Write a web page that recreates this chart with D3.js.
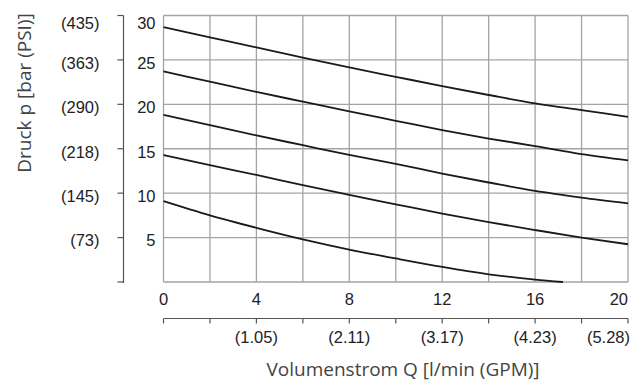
<!DOCTYPE html>
<html>
<head>
<meta charset="utf-8">
<script src="https://cdn.jsdelivr.net/npm/d3@7"></script>
<style>
  body { margin: 0; background: #fff; }
  .tick-label { font-family: "Liberation Sans", Arial, sans-serif; font-size: 16.5px; fill: #222; }
  .axis-title { font-family: "Open Sans", sans-serif; font-size: 19px; fill: #444; }
</style>
</head>
<body>
<div id="chart"></div>
<script>
// flow in l/min where each curve was read
let flowSteps = [0, 2, 4, 6, 8, 10, 12, 14, 16, 18, 20]
let flowLast = [0, 2, 4, 6, 8, 10, 12, 14, 16, 17.2]

// pressure curves in bar (top to bottom)
let curve1 = [28.7, 27.55, 26.4, 25.25, 24.15, 23.1, 22.05, 21.05, 20.1, 19.35, 18.6]
let curve2 = [23.7, 22.55, 21.4, 20.3, 19.2, 18.15, 17.1, 16.15, 15.3, 14.4, 13.7]
let curve3 = [18.8, 17.65, 16.5, 15.4, 14.3, 13.3, 12.2, 11.2, 10.25, 9.5, 8.85]
let curve4 = [14.3, 13.15, 12.05, 10.9, 9.8, 8.75, 7.7, 6.75, 5.85, 5.0, 4.25]
let curve5 = [9.1, 7.5, 6.1, 4.8, 3.65, 2.65, 1.7, 0.87, 0.27, 0]

// tick values and labels
let barTicks = [5, 10, 15, 20, 25, 30]
let psiLabels = ["(73)", "(145)", "(218)", "(290)", "(363)", "(435)"]
let flowTicks = [0, 4, 8, 12, 16, 20]
let gpmTicks = [4, 8, 12, 16, 20]
let gpmLabels = ["(1.05)", "(2.11)", "(3.17)", "(4.23)", "(5.28)"]

let width = 641, height = 387
let margin = {top: 15.5, right: 13, bottom: 105, left: 163.5}
let plotW = width - margin.left - margin.right
let plotH = height - margin.top - margin.bottom

let svg = d3.select("#chart").append("svg")
    .attr("width", width)
    .attr("height", height)

let g = svg.append("g")
    .attr("transform", "translate(" + margin.left + "," + margin.top + ")")

let x = d3.scaleLinear().domain([0, 20]).range([0, plotW])
let y = d3.scaleLinear().domain([0, 30]).range([plotH, 0])

// vertical grid lines every 2 l/min
g.append("g")
    .selectAll("line")
    .data(d3.range(0, 21, 2))
    .enter()
    .append("line")
    .attr("x1", d => x(d)).attr("x2", d => x(d))
    .attr("y1", 0).attr("y2", plotH)
    .attr("stroke", "#a3a3a3")
    .attr("stroke-width", 1.3)

// horizontal grid lines every 5 bar
g.append("g")
    .selectAll("line")
    .data(d3.range(0, 31, 5))
    .enter()
    .append("line")
    .attr("x1", 0).attr("x2", plotW)
    .attr("y1", d => y(d)).attr("y2", d => y(d))
    .attr("stroke", "#a3a3a3")
    .attr("stroke-width", 1.3)

// bar labels
g.append("g")
    .selectAll("text")
    .data(barTicks)
    .enter()
    .append("text")
    .classed("tick-label", true)
    .attr("x", -8)
    .attr("y", d => y(d) + (d === 30 ? 8 : 3))
    .attr("dy", "0.35em")
    .attr("text-anchor", "end")
    .text(d => d)

// left PSI axis
let psiX = -40
g.append("line")
    .attr("x1", psiX).attr("x2", psiX)
    .attr("y1", 0).attr("y2", plotH + 1)
    .attr("stroke", "#555")
    .attr("stroke-width", 1.2)

g.append("g")
    .selectAll("line")
    .data(d3.range(0, 31, 5))
    .enter()
    .append("line")
    .attr("x1", psiX - 6).attr("x2", psiX)
    .attr("y1", d => y(d)).attr("y2", d => y(d))
    .attr("stroke", "#555")
    .attr("stroke-width", 1.2)

g.append("g")
    .selectAll("text")
    .data(barTicks)
    .enter()
    .append("text")
    .classed("tick-label", true)
    .attr("x", psiX - 24)
    .attr("y", d => y(d) + (d === 30 ? 8 : 3))
    .attr("dy", "0.35em")
    .attr("text-anchor", "end")
    .text((d, i) => psiLabels[i])

// flow labels under the plot
g.append("g")
    .selectAll("text")
    .data(flowTicks)
    .enter()
    .append("text")
    .classed("tick-label", true)
    .attr("x", d => x(d))
    .attr("y", plotH + 17)
    .attr("dy", "0.35em")
    .attr("text-anchor", d => d === 20 ? "end" : "middle")
    .text(d => d)

// secondary GPM axis
let gpmY = plotH + 36.5
g.append("line")
    .attr("x1", 0).attr("x2", plotW)
    .attr("y1", gpmY).attr("y2", gpmY)
    .attr("stroke", "#555")
    .attr("stroke-width", 1.2)

g.append("g")
    .selectAll("line")
    .data(d3.range(0, 21, 2))
    .enter()
    .append("line")
    .attr("x1", d => x(d)).attr("x2", d => x(d))
    .attr("y1", gpmY).attr("y2", gpmY + 5)
    .attr("stroke", "#555")
    .attr("stroke-width", 1.2)

g.append("g")
    .selectAll("text")
    .data(gpmTicks)
    .enter()
    .append("text")
    .classed("tick-label", true)
    .attr("x", d => x(d) + (d === 20 ? 2 : 0))
    .attr("y", gpmY + 19)
    .attr("dy", "0.35em")
    .attr("text-anchor", d => d === 20 ? "end" : "middle")
    .text((d, i) => gpmLabels[i])

// the pressure curves
let line = d3.line()
    .x(d => x(d[0]))
    .y(d => y(d[1]))
    .curve(d3.curveMonotoneX)

let curves = [curve1, curve2, curve3, curve4]
curves.forEach(function(c) {
    g.append("path")
        .datum(flowSteps.map((q, i) => [q, c[i]]))
        .attr("d", line)
        .attr("fill", "none")
        .attr("stroke", "#1a1a1a")
        .attr("stroke-width", 1.8)
})
g.append("path")
    .datum(flowLast.map((q, i) => [q, curve5[i]]))
    .attr("d", line)
    .attr("fill", "none")
    .attr("stroke", "#1a1a1a")
    .attr("stroke-width", 1.8)

// axis titles
svg.append("text")
    .classed("axis-title", true)
    .attr("transform", "translate(31,93) rotate(-90)")
    .attr("text-anchor", "middle")
    .text("Druck p [bar (PSI)]")

svg.append("text")
    .classed("axis-title", true)
    .attr("x", 403)
    .attr("y", 376)
    .attr("text-anchor", "middle")
    .text("Volumenstrom Q [l/min (GPM)]")
</script>
</body>
</html>
